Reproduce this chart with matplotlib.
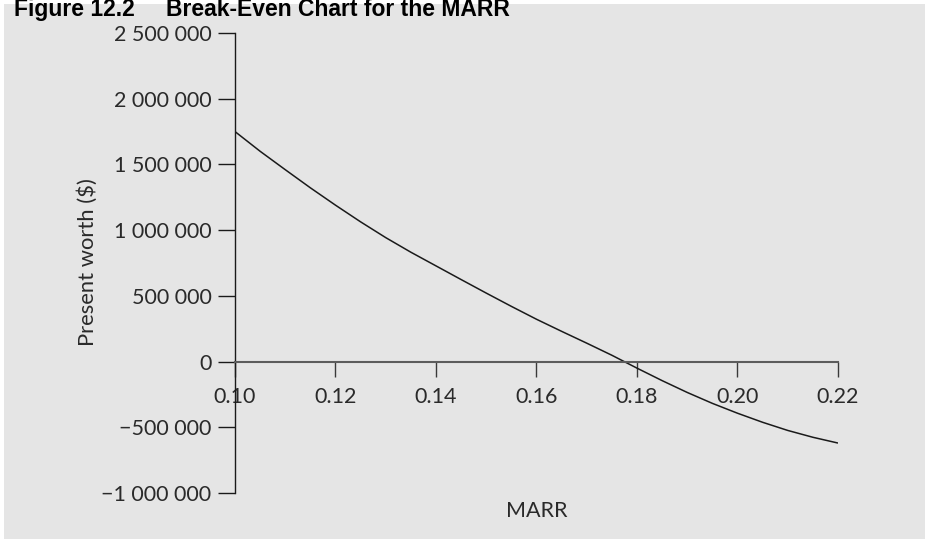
import matplotlib
matplotlib.use("Agg")
import matplotlib.pyplot as plt
from matplotlib import font_manager as fm
from matplotlib.patches import Rectangle
from matplotlib.ticker import FuncFormatter, FixedLocator

# ---- data ----
marr = [0.100, 0.105, 0.110, 0.115, 0.120, 0.125, 0.130, 0.135, 0.140, 0.145,
        0.150, 0.155, 0.160, 0.165, 0.170, 0.175, 0.180, 0.185, 0.190, 0.195,
        0.200, 0.205, 0.210, 0.215, 0.220]
present_worth = [1750000, 1600000, 1460000, 1322000, 1190000, 1063000, 943000, 832000,
                 728000, 624000, 521000, 420000, 322000, 230000, 140000, 48000,
                 -50000, -145000, -235000, -318000, -393000, -462000, -524000,
                 -576000, -620000]
x_ticks = [0.10, 0.12, 0.14, 0.16, 0.18, 0.20, 0.22]
y_ticks = [-1000000, -500000, 0, 500000, 1000000, 1500000, 2000000, 2500000]
title_num = "Figure 12.2"
title_text = "Break-Even Chart for the MARR"
x_label = "MARR"
y_label = "Present worth ($)"


def has_font(name):
    try:
        fm.findfont(fm.FontProperties(family=name), fallback_to_default=False)
        return True
    except Exception:
        return False


body_font = "Lato" if has_font("Lato") else "DejaVu Sans"
if has_font("Liberation Sans Narrow"):
    title_font, title_size = "Liberation Sans Narrow", 19.5
else:
    title_font, title_size = "Liberation Sans", 16.5

plt.rcParams["font.family"] = [body_font, "DejaVu Sans"]

W, H = 929, 539
fig = plt.figure(figsize=(W / 100, H / 100), dpi=100, facecolor="white")

# gray panel
fig.patches.append(Rectangle((4 / W, 0), 921 / W, 535 / H, transform=fig.transFigure,
                             facecolor="#e5e5e5", edgecolor="none", zorder=-10))

ax = fig.add_axes([235 / W, (H - 493) / H, 603 / W, 460 / H])
ax.set_facecolor("none")

ax.plot(marr, present_worth, color="#1a1a1a", lw=1.1, solid_capstyle="butt",
        solid_joinstyle="round")

ax.set_xlim(0.10, 0.22)
ax.set_ylim(-1000000, 2500000)

ax.spines["top"].set_visible(False)
ax.spines["right"].set_visible(False)
ax.spines["bottom"].set_position(("data", 0))
ax.spines["bottom"].set_color("#5c5c5c")
ax.spines["bottom"].set_linewidth(1.5)
ax.spines["left"].set_color("#1a1a1a")
ax.spines["left"].set_linewidth(1.0)

ax.xaxis.set_major_locator(FixedLocator(x_ticks))
ax.yaxis.set_major_locator(FixedLocator(y_ticks))
ax.xaxis.set_major_formatter(FuncFormatter(lambda v, p: f"{v:.2f}"))


def fmt_y(v, p):
    s = f"{abs(v):,.0f}".replace(",", " ")
    return ("\u2212" + s) if v < 0 else s


ax.yaxis.set_major_formatter(FuncFormatter(fmt_y))

ax.tick_params(axis="x", direction="out", length=10.5, width=1.0, color="#3a3a3a",
               pad=7.5, labelsize=15.5, labelcolor="#2a2a2a")
ax.tick_params(axis="y", direction="out", length=12.5, width=1.0, color="#1a1a1a",
               pad=4.5, labelsize=15.5, labelcolor="#2a2a2a")

ax.set_xlabel(x_label, fontsize=15.5, color="#2a2a2a", va="center")
ax.xaxis.set_label_coords(0.5, -0.039)
ax.set_ylabel(y_label, fontsize=15.8, color="#2a2a2a", va="center")
ax.yaxis.set_label_coords(-0.2446, 0.503)

# title (cut off at top edge like the reference)
fig.text(135 / W, (H - 16) / H, title_num, ha="right", va="baseline",
         fontsize=title_size, fontweight="bold", family=title_font, color="black")
fig.text(166 / W, (H - 16) / H, title_text, ha="left", va="baseline",
         fontsize=title_size, fontweight="bold", family=title_font, color="black")

fig.savefig("out.png", dpi=100, facecolor="white")
